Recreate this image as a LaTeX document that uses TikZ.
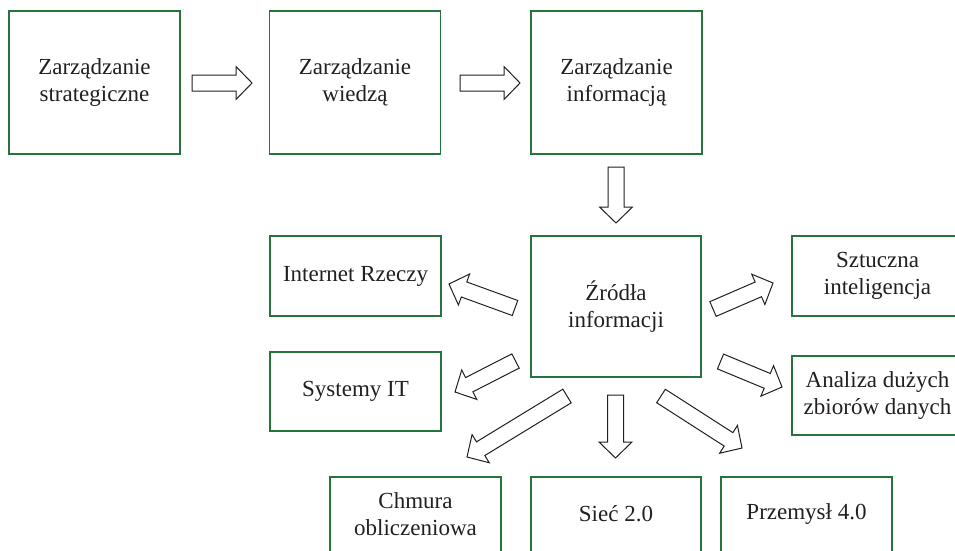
\documentclass[tikz,border=0pt]{standalone}
\usepackage{fontspec}
\setmainfont{Liberation Serif}
\usetikzlibrary{calc}
\definecolor{boxgreen}{RGB}{38,115,62}
\definecolor{inkc}{RGB}{35,31,32}
\def\arrsw{8pt}
\def\arrhw{16.5pt}
\def\arrhl{16pt}
\newcommand\fatarrow[2]{%
  \draw[fatarr] ($(#1)!\arrsw!90:(#2)$)
    -- ($(#2)!\arrhl!(#1)!\arrsw!-90:(#1)$)
    -- ($(#2)!\arrhl!(#1)!\arrhw!-90:(#1)$)
    -- (#2)
    -- ($(#2)!\arrhl!(#1)!\arrhw!90:(#1)$)
    -- ($(#2)!\arrhl!(#1)!\arrsw!90:(#1)$)
    -- ($(#1)!\arrsw!-90:(#2)$) -- cycle;}
\tikzset{
  box/.style={draw=boxgreen, line width=1.1pt, minimum width=171pt, minimum height=80pt,
    align=center, inner sep=0pt, text=inkc, font=\fontsize{23}{27}\selectfont},
  fatarr/.style={draw=inkc, fill=white, line width=1pt, line join=miter},
}
\begin{document}
\begin{tikzpicture}[x=1pt,y=-1pt]
\useasboundingbox (0,0) rectangle (955,551);
\node[box, minimum height=143pt] (zs) at (94.5,82.5) {Zarządzanie\\strategiczne};
\node[box, minimum height=143pt] (zw) at (355,82.5) {Zarządzanie\\wiedzą};
\node[box, minimum height=143pt] (zi) at (616.5,82.5) {Zarządzanie\\informacją};
\node[box, minimum width=170pt, minimum height=141pt] (zr) at (616,306.5) {Źródła\\informacji};
\node[box] (ir) at (355.5,276) {Internet Rzeczy};
\node[box, minimum height=79pt] (sit) at (355.5,391.5) {Systemy IT};
\node[box] (si) at (877.5,276) {Sztuczna\\inteligencja};
\node[box, minimum height=79pt] (ad) at (877.5,395.5) {Analiza dużych\\zbiorów danych};
\node[box, text depth=6pt] (ch) at (415.5,517) {Chmura\\obliczeniowa};
\node[box, minimum width=170pt, text depth=8pt] (sc) at (616,517) {Sieć 2.0};
\node[box, text depth=11pt] (pr) at (806.5,517) {Przemysł 4.0};
% arrow ends
\coordinate (a1s) at (192,83);   \coordinate (a1e) at (252,83);
\coordinate (a2s) at (460,83);   \coordinate (a2e) at (520,83);
\coordinate (a3s) at (616,167);  \coordinate (a3e) at (616,223);
\coordinate (irs) at (515,308);  \coordinate (ire) at (449,284);
\coordinate (sits) at (515.5,361); \coordinate (site) at (455,392);
\coordinate (sis) at (713,309);  \coordinate (sie) at (773,283);
\coordinate (ads) at (720.5,361.5); \coordinate (ade) at (782,387);
\coordinate (chs) at (567,396);  \coordinate (che) at (467,457);
\coordinate (scs) at (615.5,395); \coordinate (sce) at (615.5,458);
\coordinate (prs) at (661,396);  \coordinate (pre) at (742,448);
\fatarrow{a1s}{a1e}
\fatarrow{a2s}{a2e}
\fatarrow{a3s}{a3e}
\fatarrow{irs}{ire}
\fatarrow{sits}{site}
\fatarrow{sis}{sie}
\fatarrow{ads}{ade}
\fatarrow{chs}{che}
\fatarrow{scs}{sce}
\fatarrow{prs}{pre}
\end{tikzpicture}
\end{document}
